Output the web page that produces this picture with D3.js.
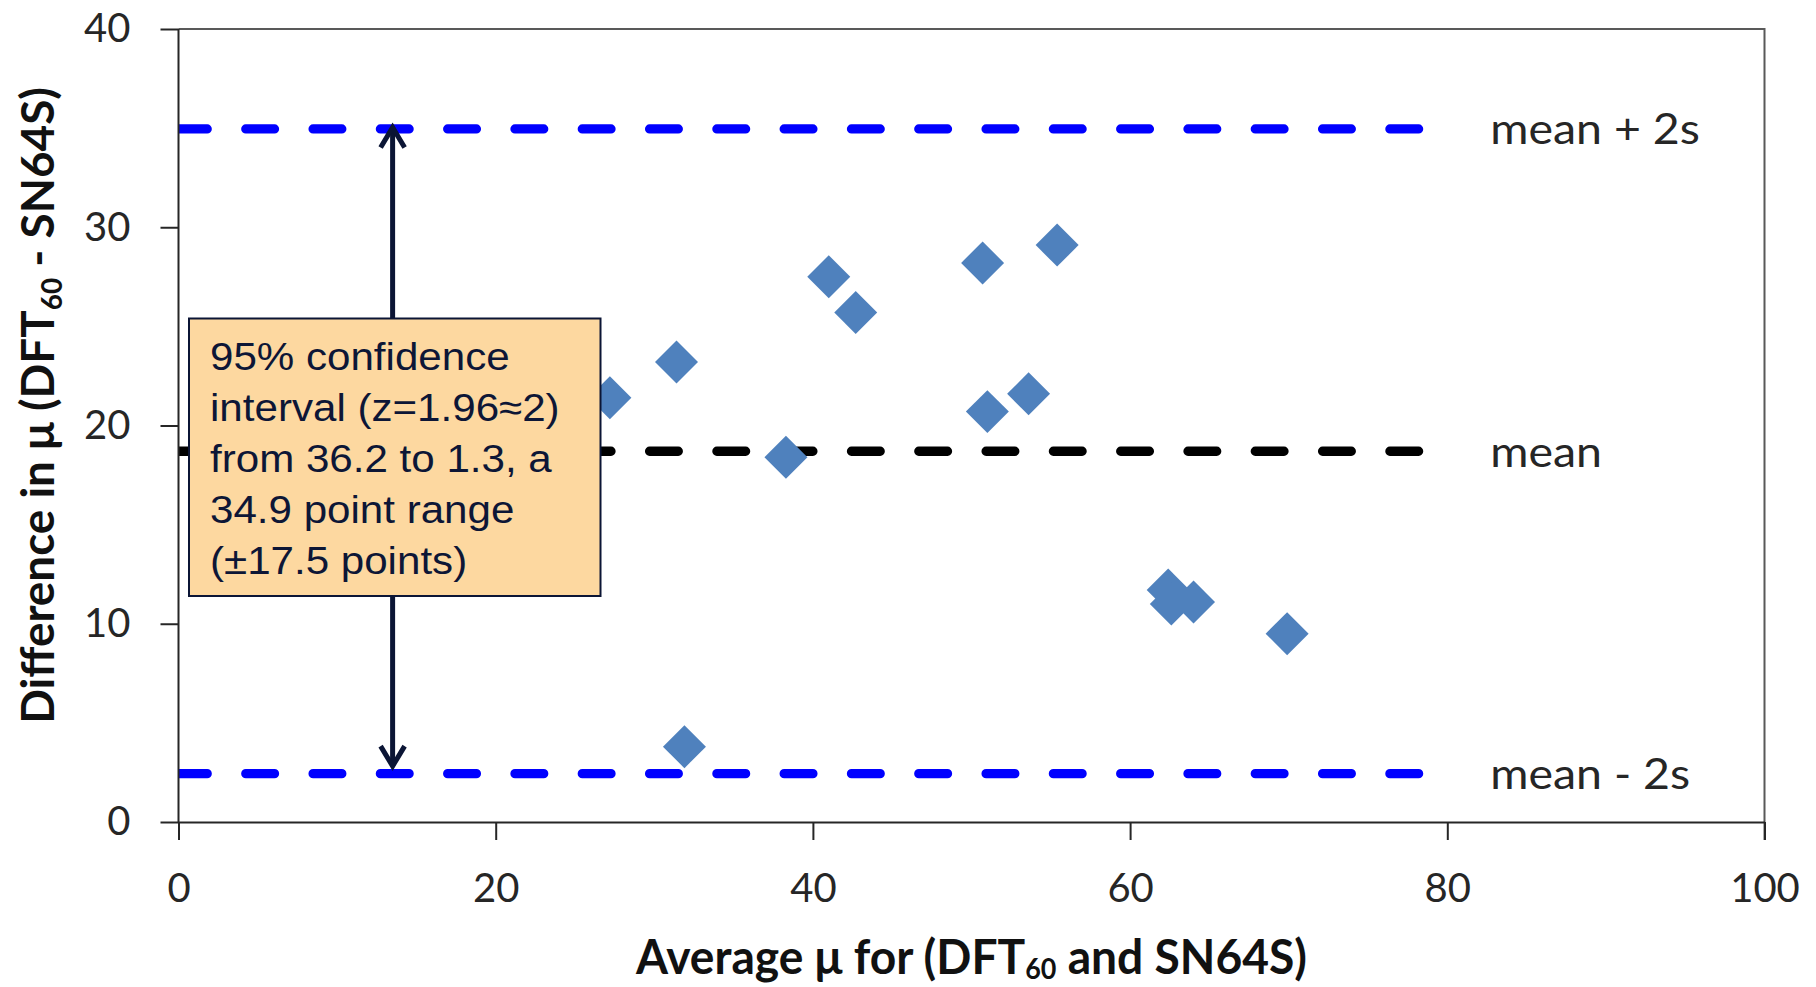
<!DOCTYPE html>
<html>
<head>
<meta charset="utf-8">
<script src="https://cdn.jsdelivr.net/npm/d3@7"></script>
<style>
  html, body { margin: 0; padding: 0; background: #ffffff; }
  svg { display: block; }
</style>
</head>
<body>
<svg id="chart" width="1816" height="987"></svg>
<script>
// Bland–Altman style agreement plot: DFT60 vs SN64S

// Average of the two measurements (x) and their difference (y)
const avgValues  = [27.2, 31.4, 41.0, 42.7, 50.7, 55.4, 51.0, 53.6, 38.3, 31.9, 62.4, 62.6, 64.0, 69.9];
const diffValues = [21.4, 23.2, 27.5, 25.7, 28.2, 29.1, 20.7, 21.6, 18.4, 3.8, 11.7, 11.0, 11.1, 9.5];

// Reference lines: mean difference and mean ± 2 standard deviations
const meanDiff = 18.7;
const sdDiff = 8.13;
const refLevels = [meanDiff + 2 * sdDiff, meanDiff, meanDiff - 2 * sdDiff];
const refLabels = ["mean + 2s", "mean", "mean - 2s"];
const refColors = ["#0000ff", "#000000", "#0000ff"];
const refSpan = [0, 80];

// Axis ticks
const xTicks = [0, 20, 40, 60, 80, 100];
const yTicks = [0, 10, 20, 30, 40];

// Annotation
const arrowAt = 13.5;
const noteLines = [
  "95% confidence",
  "interval (z=1.96\u22482)",
  "from 36.2 to 1.3, a",
  "34.9 point range",
  "(\u00b117.5 points)"
];

const svg = d3.select("#chart");
const plot = { left: 178.5, right: 1764.5, top: 29, bottom: 822 };

const x = d3.scaleLinear().domain([0, 100]).range([plot.left, plot.right]);
const y = d3.scaleLinear().domain([0, 40]).range([plot.bottom, plot.top]);

svg.append("defs").append("clipPath").attr("id", "plotClip")
  .append("rect")
  .attr("x", plot.left).attr("y", plot.top)
  .attr("width", plot.right - plot.left).attr("height", plot.bottom - plot.top);

// Top and right frame of the plot area
svg.append("path")
  .attr("d", `M${plot.left},${plot.top}H${plot.right}V${plot.bottom + 18}`)
  .attr("fill", "none").attr("stroke", "#595959").attr("stroke-width", 2);

// Dashed reference lines
const refG = svg.append("g").attr("clip-path", "url(#plotClip)");
refG.selectAll("line").data(refLevels).join("line")
  .attr("x1", x(refSpan[0])).attr("x2", x(refSpan[1]))
  .attr("y1", d => y(d)).attr("y2", d => y(d))
  .attr("stroke", (d, i) => refColors[i])
  .attr("stroke-width", 9.3)
  .attr("stroke-linecap", "round")
  .attr("stroke-dasharray", "28.7 38.6");

// Reference line labels
svg.append("g").selectAll("text").data(refLevels).join("text")
  .attr("transform", d => `translate(${x(refSpan[1]) + 43},${y(d)}) scale(1.08,1)`)
  .attr("dy", "0.36em")
  .attr("font-family", "Lato, 'Open Sans', sans-serif")
  .attr("font-size", 43)
  .attr("fill", "#262626")
  .text((d, i) => refLabels[i]);

// Double-headed arrow spanning the ±2s band
const navy = "#0b1535";
const ax = x(arrowAt);
const yTop = y(refLevels[0]) - 4.5;
const yBot = y(refLevels[2]) - 4.5;
const arrowG = svg.append("g")
  .attr("fill", "none").attr("stroke", navy).attr("stroke-width", 5)
  .attr("stroke-linejoin", "miter");
arrowG.append("line").attr("x1", ax).attr("x2", ax).attr("y1", yTop + 3).attr("y2", yBot - 3);
arrowG.append("path").attr("d", `M${ax - 12},${yTop + 23}L${ax},${yTop + 3}L${ax + 12},${yTop + 23}`);
arrowG.append("path").attr("d", `M${ax - 12},${yBot - 23}L${ax},${yBot - 3}L${ax + 12},${yBot - 23}`);

// Data points as diamonds
const diamond = d3.symbol().type(d3.symbolSquare).size(924);
svg.append("g").selectAll("path").data(avgValues).join("path")
  .attr("d", diamond)
  .attr("transform", (d, i) => `translate(${x(d)},${y(diffValues[i])}) rotate(45)`)
  .attr("fill", "#4f81bd");

// Annotation box
const box = { x: 189, y: 318.5, w: 411.5, h: 277.5 };
svg.append("rect")
  .attr("x", box.x).attr("y", box.y).attr("width", box.w).attr("height", box.h)
  .attr("fill", "#fdd8a0").attr("stroke", navy).attr("stroke-width", 2);
const noteG = svg.append("g");
noteLines.forEach((t, i) => {
  noteG.append("text")
    .attr("transform", `translate(${box.x + 21},${box.y + 51 + i * 51}) scale(1.08,1)`)
    .attr("font-family", "'Liberation Sans', Arial, sans-serif")
    .attr("font-size", 39)
    .attr("fill", "#0d1636")
    .text(t);
});

// Axes
const tickFont = "Lato, 'Open Sans', sans-serif";
const xAxis = svg.append("g")
  .attr("transform", `translate(0,${plot.bottom})`)
  .call(d3.axisBottom(x).tickValues(xTicks).tickSize(18).tickSizeOuter(0).tickPadding(33.5));
const yAxis = svg.append("g")
  .attr("transform", `translate(${plot.left},0)`)
  .call(d3.axisLeft(y).tickValues(yTicks).tickSize(18).tickSizeOuter(0).tickPadding(30));
[xAxis, yAxis].forEach(g => {
  g.select(".domain").attr("stroke", "#262626").attr("stroke-width", 2);
  g.selectAll(".tick line").attr("stroke", "#262626").attr("stroke-width", 2);
  g.selectAll(".tick text")
    .attr("font-family", tickFont).attr("font-size", 40).attr("fill", "#262626");
});
yAxis.select(".domain").attr("d", `M0,${plot.top}V${plot.bottom}`);

// Axis titles: squeeze horizontally to the wanted width, like a condensed face
const titleFont = "Lato, 'Open Sans', sans-serif";
function fitWidth(textSel, cx, cy, angle, width) {
  const w = textSel.node().getComputedTextLength();
  textSel.attr("transform", `translate(${cx},${cy}) rotate(${angle}) scale(${width / w},1)`);
}

const xTitle = svg.append("text")
  .attr("text-anchor", "middle")
  .attr("font-family", titleFont).attr("font-weight", 700).attr("font-size", 48)
  .attr("fill", "#111");
xTitle.append("tspan").text("Average \u03bc for (DFT");
xTitle.append("tspan").attr("font-size", 28).attr("dy", 5).text("60");
xTitle.append("tspan").attr("dy", -5).text(" and SN64S)");
fitWidth(xTitle, (plot.left + plot.right) / 2, 974, 0, 671);

const yTitle = svg.append("text")
  .attr("text-anchor", "middle")
  .attr("font-family", titleFont).attr("font-weight", 700).attr("font-size", 46)
  .attr("fill", "#111");
yTitle.append("tspan").text("Difference in \u03bc (DFT");
yTitle.append("tspan").attr("font-size", 28).attr("dy", 8).text("60");
yTitle.append("tspan").attr("dy", -8).text(" - SN64S)");
fitWidth(yTitle, 54, 405.5, -90, 637);
</script>
</body>
</html>
